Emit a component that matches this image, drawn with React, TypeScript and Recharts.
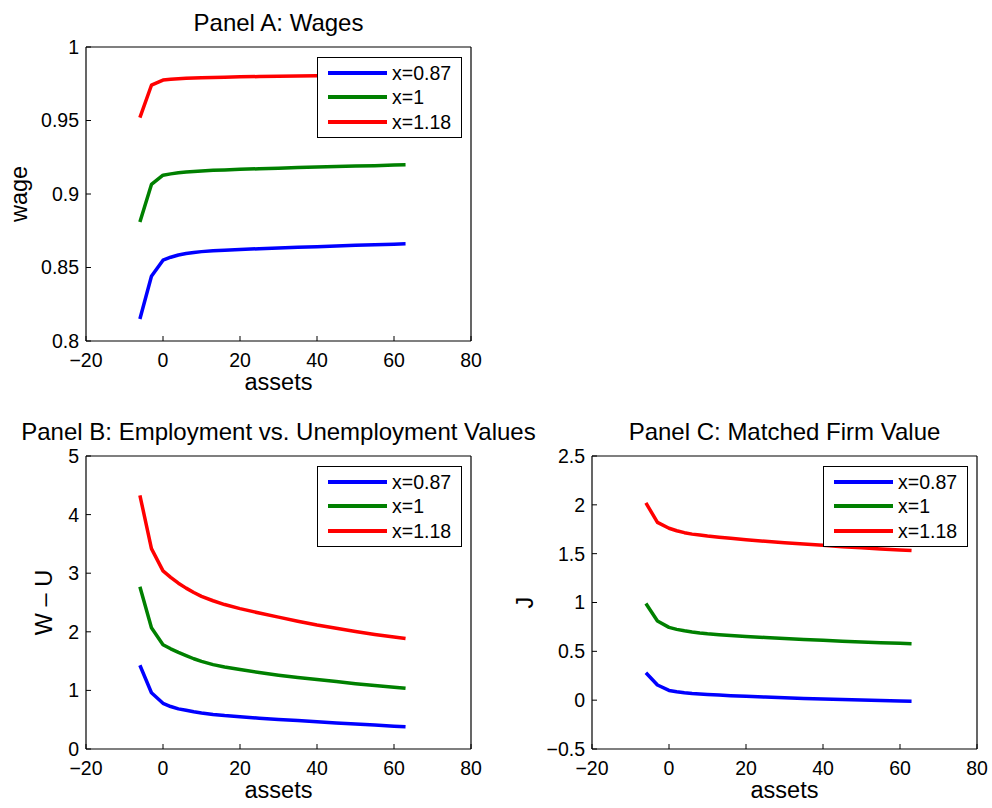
import React from 'react';
import { LineChart, Line, XAxis, YAxis, Legend, Label } from 'recharts';

const assets = [-6, -3, 0, 2, 4, 6, 8, 10, 13, 16, 20, 25, 30, 35, 40, 45, 50, 55, 60, 63];
const seriesNames = ['x=0.87', 'x=1', 'x=1.18'];
const seriesColors = ['#0000ff', '#008000', '#ff0000'];
const xTicks = [-20, 0, 20, 40, 60, 80];

// Panel A: wages
const wageLow = [0.815, 0.844, 0.855, 0.857, 0.8585, 0.8595, 0.8602, 0.8608, 0.8614, 0.8618, 0.8623, 0.8628, 0.8633, 0.8638, 0.8642, 0.8647, 0.8651, 0.8655, 0.8659, 0.8661];
const wageMid = [0.881, 0.9065, 0.9128, 0.9137, 0.9144, 0.9149, 0.9153, 0.9157, 0.9161, 0.9164, 0.9168, 0.9172, 0.9176, 0.918, 0.9183, 0.9187, 0.919, 0.9193, 0.9197, 0.9199];
const wageHigh = [0.952, 0.974, 0.9775, 0.978, 0.9784, 0.9787, 0.9789, 0.9791, 0.9793, 0.9795, 0.9797, 0.9799, 0.9801, 0.9803, 0.9805, 0.9807, 0.9809, 0.981, 0.9812, 0.9813];
const wageTicks = [0.8, 0.85, 0.9, 0.95, 1];

// Panel B: W - U
const wuLow = [1.43, 0.96, 0.78, 0.725, 0.685, 0.66, 0.635, 0.615, 0.59, 0.57, 0.55, 0.525, 0.505, 0.485, 0.465, 0.445, 0.425, 0.41, 0.39, 0.38];
const wuMid = [2.77, 2.07, 1.78, 1.71, 1.65, 1.595, 1.54, 1.495, 1.44, 1.4, 1.355, 1.305, 1.26, 1.22, 1.185, 1.15, 1.115, 1.085, 1.055, 1.035];
const wuHigh = [4.33, 3.42, 3.04, 2.93, 2.83, 2.745, 2.67, 2.605, 2.53, 2.465, 2.395, 2.32, 2.25, 2.18, 2.115, 2.06, 2.005, 1.955, 1.91, 1.885];
const wuTicks = [0, 1, 2, 3, 4, 5];

// Panel C: J
const jLow = [0.28, 0.155, 0.1, 0.087, 0.077, 0.069, 0.063, 0.058, 0.052, 0.046, 0.04, 0.032, 0.025, 0.018, 0.012, 0.006, 0.001, -0.004, -0.009, -0.012];
const jMid = [0.99, 0.81, 0.745, 0.725, 0.71, 0.698, 0.688, 0.68, 0.671, 0.663, 0.653, 0.642, 0.632, 0.622, 0.613, 0.604, 0.596, 0.589, 0.582, 0.578];
const jHigh = [2.02, 1.82, 1.76, 1.735, 1.715, 1.7, 1.69, 1.68, 1.668, 1.657, 1.643, 1.627, 1.612, 1.598, 1.585, 1.572, 1.56, 1.549, 1.538, 1.532];
const jTicks = [-0.5, 0, 0.5, 1, 1.5, 2, 2.5];

const FONT = '"Liberation Sans", Arial, Helvetica, sans-serif';
const fmt = (v: number) => String(v).replace('-', '\u2212');

const buildRows = (s0: number[], s1: number[], s2: number[]) =>
  assets.map((a, i) => ({ a, s0: s0[i], s1: s1[i], s2: s2[i] }));

const renderLegend = (props: any) => {
  const payload = props.payload || [];
  return (
    <div
      style={{
        border: '1.3px solid #000',
        background: '#fff',
        width: 145,
        height: 81,
        boxSizing: 'border-box',
        paddingTop: 3,
        paddingLeft: 10.5,
        fontFamily: FONT,
        fontSize: 19.5,
        color: '#000',
      }}
    >
      {payload.map((entry: any) => (
        <div key={entry.value} style={{ display: 'flex', alignItems: 'center', height: 24.5 }}>
          <svg width={59} height={6} style={{ display: 'block' }}>
            <line x1={0} y1={3} x2={59} y2={3} stroke={entry.color} strokeWidth={4} />
          </svg>
          <span style={{ marginLeft: 5, lineHeight: '24px' }}>{entry.value}</span>
        </div>
      ))}
    </div>
  );
};

type PanelProps = {
  left: number;
  top: number;
  width: number;
  height: number;
  margin: { top: number; right: number; bottom: number; left: number };
  yAxisWidth: number;
  yDomain: [number, number];
  yTicks: number[];
  title: string;
  ylabel: string;
  ylabelOffset: number;
  legendLeft: number;
  legendTop: number;
  s0: number[];
  s1: number[];
  s2: number[];
};

const tickStyle = { fontSize: 19.5, fill: '#000', fontFamily: FONT };

const Panel = (p: PanelProps) => {
  const data = buildRows(p.s0, p.s1, p.s2);
  const keys = ['s0', 's1', 's2'];
  return (
    <div style={{ position: 'absolute', left: p.left, top: p.top, width: p.width, height: p.height }}>
      <LineChart width={p.width} height={p.height} data={data} margin={p.margin}>
        <XAxis
          xAxisId="b"
          dataKey="a"
          type="number"
          domain={[-20, 80]}
          ticks={xTicks}
          interval={0}
          allowDataOverflow
          height={50}
          tickSize={-5}
          tickMargin={17}
          tickFormatter={fmt}
          tick={tickStyle}
          stroke="#000"
          axisLine={{ stroke: '#000', strokeWidth: 1.2 }}
          tickLine={{ stroke: '#000' }}
        >
          <Label value="assets" position="insideBottom" offset={1} style={{ fontSize: 23.5, fill: '#000', fontFamily: FONT }} />
        </XAxis>
        <XAxis
          xAxisId="t"
          orientation="top"
          type="number"
          domain={[-20, 80]}
          ticks={xTicks}
          interval={0}
          allowDataOverflow
          height={1}
          tickSize={-5}
          tick={false}
          axisLine={{ stroke: '#000', strokeWidth: 1.2 }}
          tickLine={{ stroke: '#000' }}
        >
          <Label value={p.title} position="top" offset={15.5} style={{ fontSize: 24, fill: '#000', fontFamily: FONT }} />
        </XAxis>
        <YAxis
          yAxisId="l"
          type="number"
          domain={p.yDomain}
          ticks={p.yTicks}
          interval={0}
          allowDataOverflow
          width={p.yAxisWidth}
          tickSize={-5}
          tickMargin={12}
          tickFormatter={fmt}
          tick={tickStyle}
          axisLine={{ stroke: '#000', strokeWidth: 1.2 }}
          tickLine={{ stroke: '#000' }}
        >
          <Label
            value={p.ylabel}
            angle={-90}
            position="insideLeft"
            offset={p.ylabelOffset}
            style={{ fontSize: 23.5, fill: '#000', fontFamily: FONT, textAnchor: 'middle' }}
          />
        </YAxis>
        <YAxis
          yAxisId="r"
          orientation="right"
          type="number"
          domain={p.yDomain}
          ticks={p.yTicks}
          interval={0}
          allowDataOverflow
          width={1}
          tickSize={-5}
          tick={false}
          axisLine={{ stroke: '#000', strokeWidth: 1.2 }}
          tickLine={{ stroke: '#000' }}
        />
        {keys.map((k, i) => (
          <Line
            key={k}
            xAxisId="b"
            yAxisId="l"
            dataKey={k}
            name={seriesNames[i]}
            stroke={seriesColors[i]}
            strokeWidth={3.5}
            dot={false}
            activeDot={false}
            isAnimationActive={false}
            strokeLinejoin="round"
          />
        ))}
        <Legend
          layout="vertical"
          align="center"
          verticalAlign="middle"
          content={renderLegend}
          wrapperStyle={{ left: p.legendLeft, top: p.legendTop, width: 145, height: 81, right: 'auto', bottom: 'auto' }}
        />
      </LineChart>
    </div>
  );
};

export default function App() {
  return (
    <div style={{ position: 'absolute', left: 0, top: 0, width: 992, height: 808, background: '#fff', fontFamily: FONT }}>
      <Panel
        left={0}
        top={0}
        width={500}
        height={400}
        margin={{ top: 46, right: 28, bottom: 9, left: 0 }}
        yAxisWidth={86}
        yDomain={[0.8, 1]}
        yTicks={wageTicks}
        title="Panel A: Wages"
        ylabel="wage"
        ylabelOffset={19}
        legendLeft={316.5}
        legendTop={56.5}
        s0={wageLow}
        s1={wageMid}
        s2={wageHigh}
      />
      <Panel
        left={0}
        top={400}
        width={570}
        height={408}
        margin={{ top: 55, right: 98, bottom: 9, left: 0 }}
        yAxisWidth={86}
        yDomain={[0, 5]}
        yTicks={wuTicks}
        title="Panel B: Employment vs. Unemployment Values"
        ylabel="W – U"
        ylabelOffset={44}
        legendLeft={316.5}
        legendTop={65.5}
        s0={wuLow}
        s1={wuMid}
        s2={wuHigh}
      />
      <Panel
        left={500}
        top={400}
        width={492}
        height={408}
        margin={{ top: 55, right: 14, bottom: 9, left: 0 }}
        yAxisWidth={92}
        yDomain={[-0.5, 2.5]}
        yTicks={jTicks}
        title="Panel C: Matched Firm Value"
        ylabel="J"
        ylabelOffset={25}
        legendLeft={322.5}
        legendTop={65.5}
        s0={jLow}
        s1={jMid}
        s2={jHigh}
      />
    </div>
  );
}
